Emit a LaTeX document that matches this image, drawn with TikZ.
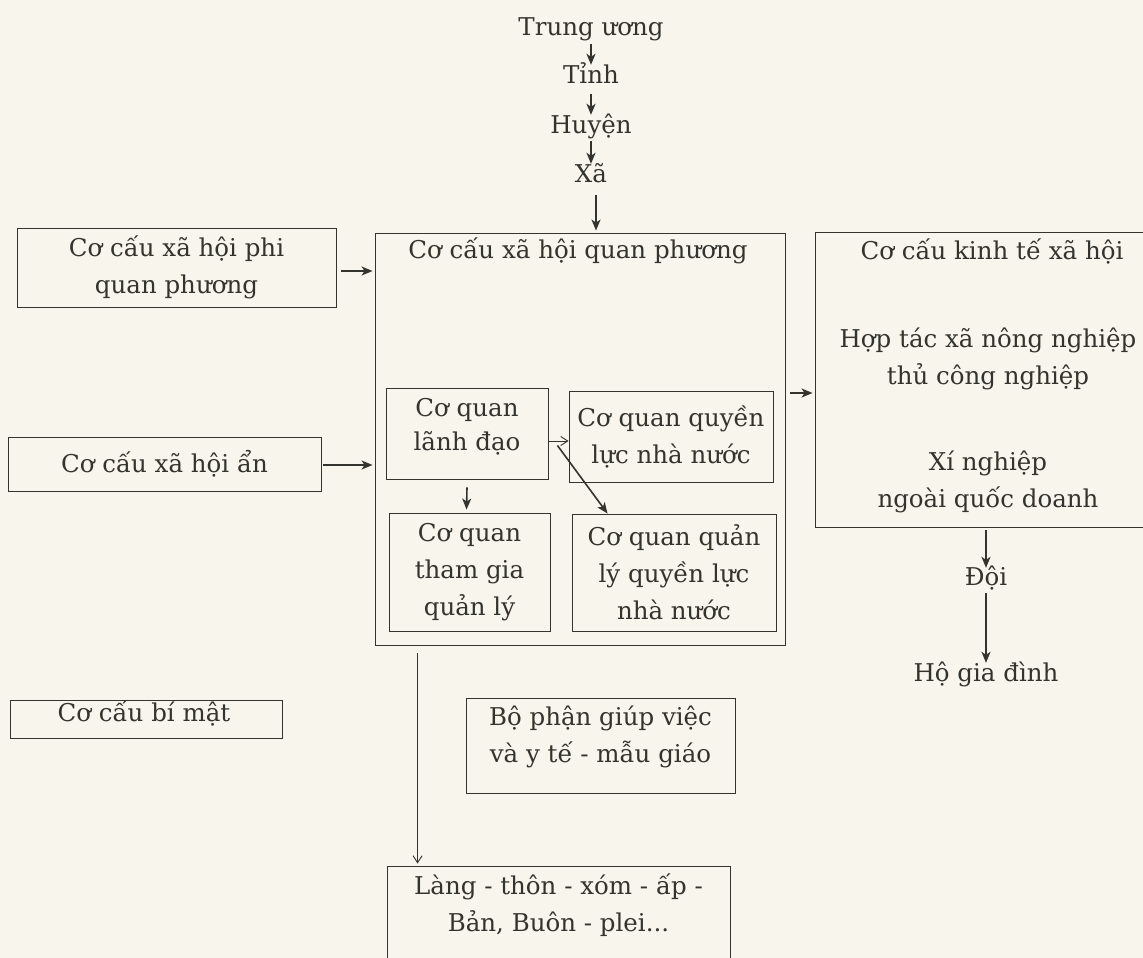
\documentclass[tikz,border=0pt]{standalone}
\usepackage{fontspec}
\setmainfont{DejaVu Serif}
\usetikzlibrary{arrows.meta,calc}
\definecolor{paper}{RGB}{247,245,236}
\definecolor{ink}{RGB}{52,52,46}
\begin{document}
\begin{tikzpicture}[x=1pt,y=-1pt,
  txt/.style={text=ink,align=center,inner sep=1pt,font=\fontsize{24.5}{37}\selectfont},
  level/.style={txt,text height=18pt,text depth=6pt},
  box/.style={draw=ink,line width=0.9pt,inner sep=0pt,txt},
  arr/.style={draw=ink,line width=1.6pt,-{Stealth[length=11pt,width=9pt,inset=3pt]}},
  thin/.style={draw=ink,line width=0.9pt,-{Straight Barb[length=7pt,width=9pt]}}]
\fill[paper] (0,0) rectangle (1143,958);
\useasboundingbox (0,0) rectangle (1143,958);

% administrative chain
\node[level] (tw) at (591,30) {Trung ương};
\node[level] (tinh) at (591,77) {Tỉnh};
\node[level] (huyen) at (591,127) {Huyện};
\node[level] (xa) at (591,176) {Xã};
\draw[arr] ($(tw.south)+(0,1)$) -- ($(tinh.north)+(0,1)$);
\draw[arr] ($(tinh.south)+(0,4)$) -- ($(huyen.north)+(0,1)$);
\draw[arr] ($(huyen.south)+(0,1)$) -- ($(xa.north)+(0,1)$);

% official structure
\node[box,minimum width=410,minimum height=412] (qp) at (580,439) {};
\node[txt] (qpt) at (578,251) {Cơ cấu xã hội quan phương};
\draw[arr] ($(xa.south)+(5,6)$) -- ($(qp.north)+(16,-2)$);

\node[box,minimum width=162,minimum height=91] (ld) at (467,433.5) {};
\node[txt,font=\fontsize{24.5}{34}\selectfont] (ldt) at (467,426.5) {Cơ quan\\lãnh đạo};
\node[box,minimum width=204,minimum height=91] (qlnn) at (671,436.5) {Cơ quan quyền\\lực nhà nước};
\node[box,minimum width=161,minimum height=118] (tg) at (469.5,572) {Cơ quan\\tham gia\\quản lý};
\node[box,minimum width=204,minimum height=117] (qly) at (674,572.5) {Cơ quan quản\\lý quyền lực\\nhà nước};
\draw[thin] (ld.east |- 0,441) -- (qlnn.west |- 0,441);
\draw[arr] ($(ld.east)+(9,12)$) -- ($(qly.north west)+(36,0)$);
\draw[arr] ($(ld.south)+(0,8)$) -- ($(tg.north)+(-3,-3)$);

% structures beside the official one
\node[box,minimum width=319,minimum height=79] (phi) at (176.5,267.5) {Cơ cấu xã hội phi\\quan phương};
\node[box,minimum width=313,minimum height=54] (an) at (164.5,464) {Cơ cấu xã hội ẩn};
\node[box,minimum width=272,minimum height=38] (bm) at (146,719) {};
\node[txt] (bmt) at (144,713) {Cơ cấu bí mật};
\draw[arr] ($(phi.east)+(5,3.5)$) -- ($(qp.west |- phi.east)+(-2,3.5)$);
\draw[arr] ($(an.east)+(2,1)$) -- ($(qp.west |- an.east)+(-2,1)$);

% socio-economic structure
\node[box,minimum width=340,minimum height=295] (kt) at (985,379.5) {};
\node[txt] (ktt) at (992,251) {Cơ cấu kinh tế xã hội};
\node[txt] (htx) at (988,359) {Hợp tác xã nông nghiệp\\thủ công nghiệp};
\node[txt] (xn) at (988,482) {Xí nghiệp\\ngoài quốc doanh};
\draw[arr] ($(qp.east)+(5,-46)$) -- ($(kt.west |- qp.east)+(-2,-46)$);
\node[level] (doi) at (986,579) {Đội};
\node[level] (hgd) at (986,675) {Hộ gia đình};
\draw[arr] (doi |- kt.south) ++(0,3) -- ($(doi.north)+(0,2)$);
\draw[arr] ($(doi.south)+(0,1)$) -- ($(hgd.north)+(0,1)$);

% below the official structure
\node[box,minimum width=269,minimum height=95] (bp) at (600.5,745.5) {};
\node[txt] (bpt) at (600.5,737) {Bộ phận giúp việc\\và y tế - mẫu giáo};
\node[box,minimum width=343,minimum height=110] (lang) at (558.5,921) {};
\node[txt] (langt) at (558.5,905) {Làng - thôn - xóm - ấp -\\Bản, Buôn - plei...};
\draw[thin] ($(qp.south west)+(43,8)$) -- ($(lang.north west)+(31,-2)$);
\end{tikzpicture}
\end{document}
